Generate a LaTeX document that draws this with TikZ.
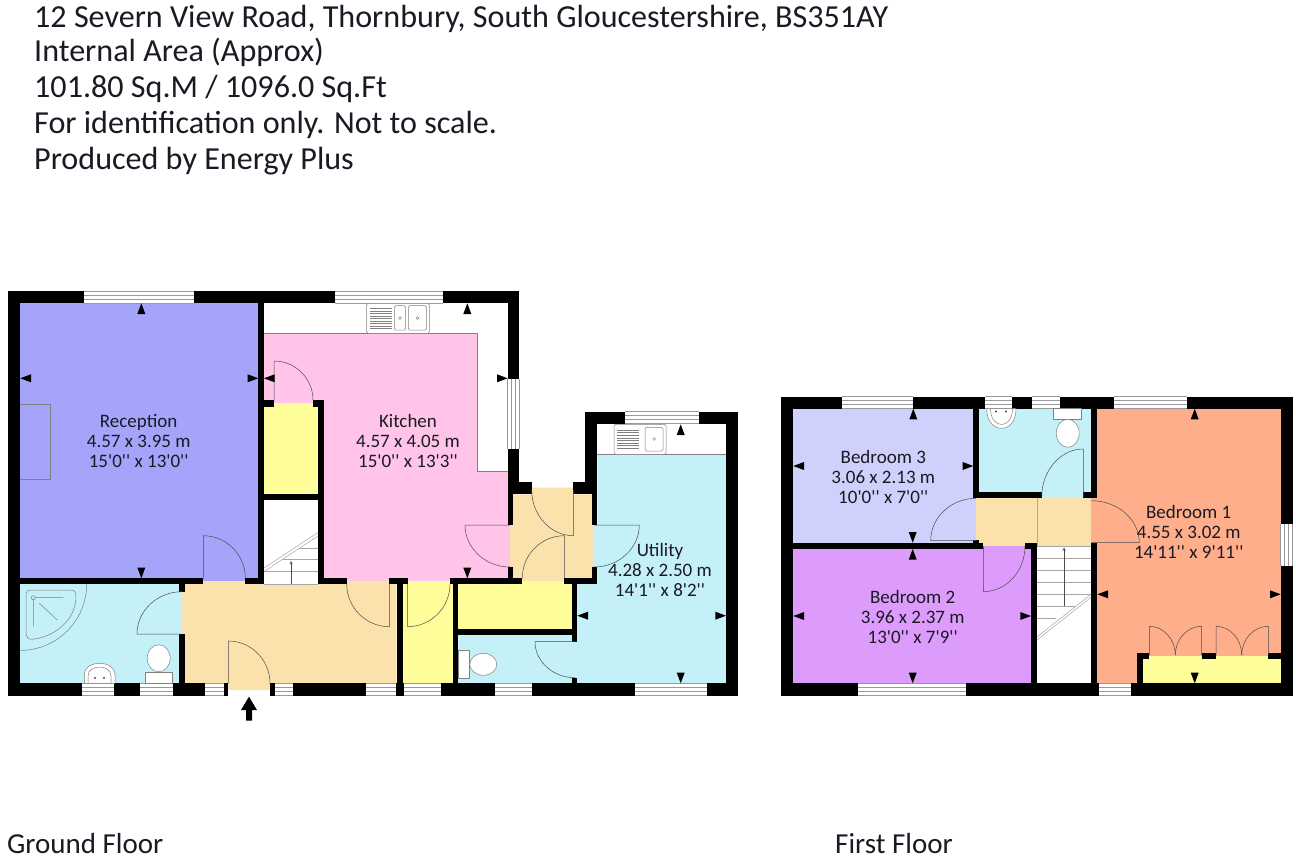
\documentclass[tikz,border=0pt]{standalone}
\usepackage{fontspec}
\setmainfont{Carlito}[Ligatures=TeXOff]
\usetikzlibrary{calc}
\definecolor{recepcol}{HTML}{A4A4FA}
\definecolor{kitchcol}{HTML}{FFC4E8}
\definecolor{hallcol}{HTML}{FBE2AC}
\definecolor{cupbcol}{HTML}{FFFD99}
\definecolor{bathcol}{HTML}{C4F0F8}
\definecolor{bedonecol}{HTML}{FFAE8C}
\definecolor{bedtwocol}{HTML}{DD9CFC}
\definecolor{bedthreecol}{HTML}{D0D0FC}
\definecolor{inkcol}{HTML}{1A1A24}
\tikzset{
  headtext/.style={anchor=base west,inner sep=0pt,text=inkcol,font=\fontsize{32.1}{34}\selectfont},
  floortext/.style={anchor=base west,inner sep=0pt,text=inkcol,font=\fontsize{29}{30}\selectfont},
  roomtext/.style={align=center,inner sep=0pt,text=inkcol,font=\fontsize{19}{20}\selectfont},
  fitting/.style={draw=black!50,line width=.5pt},
  doorline/.style={draw=black!70,line width=.5pt},
  stairline/.style={draw=black!35,line width=.5pt},
}
% door: hinge, end of the leaf, end of the arc
\newcommand{\doorleaf}[3]{\draw[doorline] (#1)--(#2)..controls ($(#2)+0.55*(#3)-0.55*(#1)$) and ($(#3)+0.55*(#2)-0.55*(#1)$)..(#3);}
\newcommand{\hwin}[3]{\fill[white](#1,#3) rectangle (#2,#3+12);
  \draw[fitting,black!40] (#1,#3)--(#2,#3) (#1,#3+4)--(#2,#3+4) (#1,#3+8)--(#2,#3+8) (#1,#3+12)--(#2,#3+12);}
\newcommand{\vwin}[3]{\fill[white](#3,#1) rectangle (#3+12,#2);
  \draw[fitting,black!40] (#3,#1)--(#3,#2) (#3+4,#1)--(#3+4,#2) (#3+8,#1)--(#3+8,#2) (#3+12,#1)--(#3+12,#2);}
\begin{document}
\begin{tikzpicture}[x=1pt,y=-1pt,>=stealth,line join=round]
\useasboundingbox (0,0) rectangle (1296,856);
\fill[white] (0,0) rectangle (1296,856);
% header
\node[headtext] (address) at (34,27.5) {12 Severn View Road, Thornbury, South Gloucestershire, BS351AY};
\node[headtext] (area) at (34,62) {Internal Area (Approx)};
\node[headtext] (size) at (34,98) {101.80 Sq.M / 1096.0 Sq.Ft};
\node[headtext] (ident) at (34,133.5) {For identification only. Not to scale.};
\node[headtext] (producer) at (34,169) {Produced by Energy Plus};
\node[floortext] (ground) at (7,853) {Ground Floor};
\node[floortext] (first) at (835,853) {First Floor};
% ground floor rooms
\fill[recepcol] (20.3,303.3) rectangle (258.3,581);
\fill[kitchcol] (264,333.3)--(477.7,333.3)--(477.7,471.7)--(510,471.7)--(510,581)--(324,581)--(324,403)--(264,403)--cycle;
\fill[cupbcol] (264,403) rectangle (318,494.3);
\fill[bathcol] (20.3,584) rectangle (182,683.3);
\fill[hallcol] (182,581) rectangle (396.7,683.3) (228.3,683) rectangle (270,690);
\fill[cupbcol] (403.3,581) rectangle (453.3,683.3);
\fill[cupbcol] (458.3,581) rectangle (571.7,629);
\fill[hallcol] (510,494.3) rectangle (594,581) (531.7,487.7) rectangle (573.3,494.3);
\fill[bathcol] (597.3,454.3)--(726,454.3)--(726,683.3)--(458.3,683.3)--(458.3,635)--(574,635)--(574,584)--(594,584)--(594,525)--(597.3,525)--cycle;
% ground floor walls
\foreach \xa/\ya/\xb/\yb in {8/291/20.3/695.7,8/291/519.3/303.3,507.7/291/519.3/494.3,
  507.7/481.7/531.7/494.3,573.3/481.7/597.3/494.3,585/411.7/597.3/494.3,585/411.7/738.3/424.3,
  726/411.7/738.3/695.7,8/683.3/228.3/695.7,270/683.3/738.3/695.7,258.3/291/264/584,
  20.3/578.3/203.3/584,245.3/578.3/264/584,318/578.3/346.7/584,389.3/578.3/407.7/584,
  450/578.3/522.3/584,564.3/578.3/597.3/584,264/400/274/406.7,313/400/324.3/406.7,
  318/400/324.3/584,264/494.3/318/500,179.3/578/185.3/591.7,179.3/634/185.3/683.3,
  396.7/578/403.3/695.7,453.3/578/458.3/695.7,507.7/494/513.3/525,507.7/566.7/513.3/584,
  591.7/494/597.3/525,591.7/566.7/597.3/584,571.7/584/577.3/641.7,571.7/677.7/577.3/683.3,
  458.3/629/577.3/635}
  \fill[black] (\xa,\ya) rectangle (\xb,\yb);
% first floor rooms
\fill[bedthreecol] (793.3,408.7) rectangle (976,542.7);
\fill[bathcol] (979,408.7) rectangle (1091.3,497.7);
\fill[hallcol] (976,497.7) rectangle (1091.3,546.3);
\fill[bedtwocol] (793.3,546.3) rectangle (1031,683.3);
\fill[bedonecol] (1091.3,408.7) rectangle (1280.7,683.3);
\fill[cupbcol] (1143.3,655.7) rectangle (1280.7,683.3);
\draw[stairline] (1037.3,497.7)--(1037.3,546.3);
% first floor walls
\foreach \xa/\ya/\xb/\yb in {781.3/396.7/1292.7/408.7,781.3/396.7/793.3/695.7,1280.7/396.7/1292.7/695.7,
  781.3/683.3/1292.7/695.7,973.3/408.7/979.3/498.3,979.3/491.7/1041.7/497.7,1083.3/491.7/1097.3/497.7,
  1091.3/408.7/1097.3/497.7,1091.3/542.7/1097.3/683.3,793.3/542.7/983.3/549,1025/542.7/1036.7/549,
  1031/549/1036.7/683.3,1137.3/652.7/1143.3/683.3,1137.3/652.7/1149.3/659,1201.7/652.7/1216/659,
  1268.3/652.7/1280.7/659,973.3/540/979.3/543}
  \fill[black] (\xa,\ya) rectangle (\xb,\yb);
% windows
\foreach \xa/\xb/\y in {84.3/193.7/291,335/442.7/291,625/699/411.7,81.7/114/683.3,140.3/173/683.3,
  205/224/683.3,275/293.3/683.3,365.7/395.7/683.3,404/440.7/683.3,495/531.7/683.3,635/707/683.3,
  842.3/913.3/396.7,985/1011.7/396.7,1032.3/1060/396.7,1114/1187.3/396.7,858.3/965.7/683.3,1099.3/1130.7/683.3}
  {\hwin{\xa}{\xb}{\y}}
\vwin{379.3}{449.3}{507.7}
\vwin{524.3}{566}{1280.7}
% worktops and fireplace
\draw[fitting] (264,333.3)--(477.7,333.3)--(477.7,471.7)--(507.7,471.7);
\draw[fitting] (597.3,454.3)--(726,454.3);
\draw[fitting] (20.3,404.3)--(50.7,404.3)--(50.7,479.3)--(20.3,479.3);
% sinks
\draw[fitting,rounded corners=1.5pt,fill=white] (366.7,303.3) rectangle (429.3,333.3);
\draw[fitting,rounded corners=1.5pt] (394.3,305.7) rectangle (405.7,330) (408.3,305.7) rectangle (426.7,330);
\draw[fitting] (400,318) circle (1.4) (417.5,318) circle (1.4);
\foreach \y in {308.5,311,...,328.5} \draw[fitting] (370,\y)--(391.7,\y);
\draw[fitting,rounded corners=1.5pt,fill=white] (614,424.3) rectangle (666,454.3);
\draw[fitting,rounded corners=1.5pt] (645,427.3) rectangle (663,451);
\draw[fitting] (654,439) circle (1.4);
\foreach \y in {430,432.6,...,449} \draw[fitting] (617.3,\y)--(639.3,\y);
% ground floor bathroom
\draw[fitting] (86.7,584) arc (0:90:66.4);
\draw[fitting] (30,590)--(70,590)..controls (75,590) and (76,592)..(76,596)..controls (76,620) and (55,637)..(32,639.3)
  ..controls (28,639.3) and (26,637)..(26,634)--(26,594)..controls (26,591) and (28,590)..(30,590)--cycle;
\draw[fitting] (33.3,599.7)--(33.3,626.7) (35.3,597.7)--(63.3,597.7) (39.3,603.3)--(57.3,620);
\draw[fitting] (33.3,597.7) circle (2);
\draw[fitting,fill=white] (84.3,683.3)--(84.3,675)..controls (84.3,667) and (92,663.3)..(99.7,663.3)
  ..controls (107,663.3) and (115,667)..(115,675)--(115,683.3)--cycle;
\draw[fitting] (88,683)--(88,676)..controls (88,670) and (94,667)..(99.7,667)..controls (105,667) and (111,670)..(111,676)--(111,683);
\fill[black!70] (95,678) circle (1.2) (104,678) circle (1.2);
\draw[fitting,fill=white] (145,672.7) rectangle (172.3,683.3);
\draw[fitting,fill=white] (158.7,658.3) ellipse (11.5 and 13.5);
% utility toilet
\draw[fitting,fill=white] (458.3,650.7) rectangle (469,678.3);
\draw[fitting,fill=white] (483.3,664.3) ellipse (13.5 and 11);
% first floor bathroom
\draw[fitting,fill=white] (986.7,408.7)..controls (986.7,422) and (994,428.3)..(1001.7,428.3)
  ..controls (1009,428.3) and (1016,422)..(1016,408.7)--cycle;
\draw[fitting] (990.5,409)..controls (990.5,419) and (996,424.5)..(1001.7,424.5)..controls (1007,424.5) and (1012.5,419)..(1012.5,409);
\fill[black!70] (996,411.5) circle (1.2) (1006,411.5) circle (1.2);
\draw[fitting,fill=white] (1053.3,408.7) rectangle (1081.7,419);
\draw[fitting,fill=white] (1067.7,433.3) ellipse (11.5 and 14);
% stairs
\fill[white] (264,500) rectangle (318,584);
\fill[black] (258.3,578.3) rectangle (264,584);
\draw[stairline] (264,584)--(318,584);
\foreach \x/\y in {299/548.3,282.6/559.3,264/571.7} \draw[stairline] (\x,\y)--(318,\y);
\draw[stairline] (264,568)--(318,532.5) (264,571.5)--(318,536);
\draw[-stealth,black!70,line width=.5pt] (291,584)--(291,561);
\fill[white] (1036.7,546.3) rectangle (1091.3,683.3);
\foreach \y in {558.3,570.3,582.3,594.3} \draw[stairline] (1037,\y)--(1091.3,\y);
\draw[stairline] (1037,606.5)--(1076,606.5) (1037,618.3)--(1056,618.3);
\draw[stairline] (1037,546.3)--(1091.3,546.3);
\draw[stairline] (1037,637)--(1091.3,594) (1037,640)--(1091.3,597);
\draw[-stealth,black!70,line width=.5pt] (1064,606)--(1064,547.5);
% doors
\doorleaf{203.3,578}{203.3,535.7}{245.3,578}
\doorleaf{182,634}{137,634}{182,591.7}
\doorleaf{228.3,683.3}{228.3,641}{270,683.3}
\doorleaf{389.3,584}{389.3,626.7}{346.7,584}
\doorleaf{407.7,584}{407.7,626.7}{450,584}
\doorleaf{274,400}{274,361}{313,400}
\doorleaf{573.3,490}{573.3,535.7}{531.7,490}
\doorleaf{510,525}{465,525}{510,567}
\doorleaf{564.3,578}{564.3,535.7}{522.3,578}
\doorleaf{594,525}{639.3,525}{594,567}
\doorleaf{575,641.7}{535,641.7}{575,677.7}
\doorleaf{1083.3,497}{1083.3,449}{1041.7,497}
\doorleaf{976,540.7}{930.7,540.7}{976,498.3}
\doorleaf{983.3,546}{983.3,591.7}{1025,546}
\doorleaf{1091.3,542.7}{1139.3,542.7}{1091.3,500.7}
\doorleaf{1149.3,655}{1149.3,626.3}{1175.3,655}
\doorleaf{1201.7,655}{1201.7,626.3}{1175.3,655}
\doorleaf{1216,655}{1216,626.3}{1241.7,655}
\doorleaf{1268.3,655}{1268.3,626.3}{1241.7,655}
% dimension marks
\foreach \x/\y/\s in {141.3/303.3/1,141.3/578.3/-1,467.3/303.3/1,467.3/578.3/-1,680.7/424.3/1,680.7/683.3/-1,
  913.3/408.7/1,912.7/542.7/-1,912.7/549/1,912.7/683.3/-1,1194.7/408.7/1,1194.7/683.3/-1}
  \fill[black] (\x,\y)--++(-4,\s*10.7)--++(8,0)--cycle;
\foreach \x/\y/\s in {20.3/378.3/1,258.3/378.3/-1,264/378.3/1,507.7/378.3/-1,577.3/615.7/1,726/615.7/-1,
  793.3/466/1,973.3/466/-1,793.3/616/1,1031/616/-1,1097.3/594.3/1,1280.7/594.3/-1}
  \fill[black] (\x,\y)--++(\s*10.7,-4)--++(0,8)--cycle;
% entrance arrow
\fill[black] (249,696.7)--(257,710)--(252,710)--(252,720.5)--(246,720.5)--(246,710)--(241,710)--cycle;
% room labels
\node[roomtext] (reception) at (138.7,441) {Reception\\4.57 x 3.95 m\\15'0'' x 13'0''};
\node[roomtext] (kitchen) at (408,441) {Kitchen\\4.57 x 4.05 m\\15'0'' x 13'3''};
\node[roomtext] (utility) at (660,570) {Utility\\4.28 x 2.50 m\\14'1'' x 8'2''};
\node[roomtext] (bedthree) at (883.3,476.7) {Bedroom 3\\3.06 x 2.13 m\\10'0'' x 7'0''};
\node[roomtext] (bedtwo) at (912.7,616.7) {Bedroom 2\\3.96 x 2.37 m\\13'0'' x 7'9''};
\node[roomtext] (bedone) at (1188.7,531.7) {Bedroom 1\\4.55 x 3.02 m\\14'11'' x 9'11''};
\end{tikzpicture}
\end{document}
